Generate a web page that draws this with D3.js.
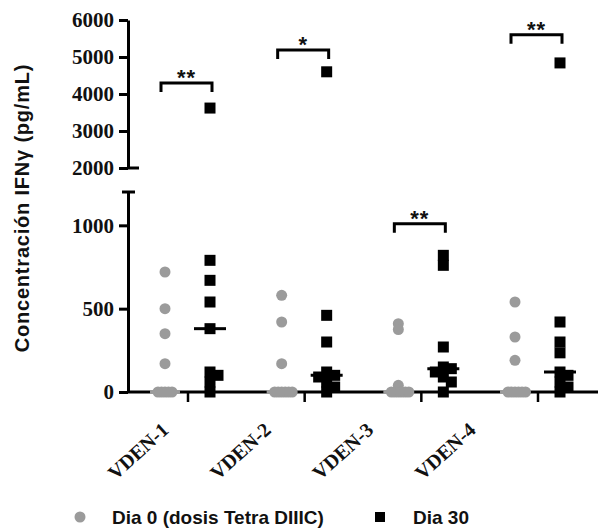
<!DOCTYPE html>
<html>
<head>
<meta charset="utf-8">
<script src="https://cdn.jsdelivr.net/npm/d3@7"></script>
<style>
body { margin: 0; background: #fff; }
</style>
</head>
<body>
<script>
// data
var groups = ['VDEN-1', 'VDEN-2', 'VDEN-3', 'VDEN-4']
var seriesNames = ['Dia 0 (dosis Tetra DIIIC)', 'Dia 30']
var dia0 = [
	[720, 500, 350, 170, 0, 0, 0, 0, 0],
	[580, 420, 170, 0, 0, 0, 0, 0, 0],
	[410, 375, 40, 0, 0, 0, 0, 0, 0],
	[540, 330, 190, 0, 0, 0, 0, 0, 0]
]
var dia30 = [
	[3620, 790, 670, 540, 380, 120, 100, 60, 0],
	[4600, 460, 300, 120, 100, 90, 60, 30, 0],
	[820, 760, 270, 150, 140, 120, 90, 60, 0],
	[4840, 420, 300, 235, 120, 100, 60, 30, 0]
]
var sigLabels = ['**', '*', '**', '**']
var sigHeights = [4300, 5190, 1010, 5600]
var lowerTicks = [0, 500, 1000]
var upperTicks = [2000, 3000, 4000, 5000, 6000]

var w = 600, h = 530
var axisX = 128
var grey = '#9b9b9b'
var serif = '"Liberation Serif", "DejaVu Serif", serif'
var sans = '"Liberation Sans", Arial, sans-serif'

var svg = d3.select('body').append('svg')
	.attr('width', w)
	.attr('height', h)

// scales
var x0 = d3.scalePoint().domain(groups).range([188, 538])
var x1 = d3.scalePoint().domain([0, 1]).range([-23, 22])
var labelX = d3.scalePoint().domain(groups).range([138, 445])
var yLow = d3.scaleLinear().domain([0, 1200]).range([392, 192])
var yHigh = d3.scaleLinear().domain([2000, 6000]).range([168, 20])
function y(v) { return v >= 2000 ? yHigh(v) : yLow(v) }

// y axis, two segments
svg.append('g')
	.attr('transform', 'translate(' + axisX + ',0)')
	.call(d3.axisLeft(yLow).tickValues(lowerTicks).tickFormat(d3.format('d'))
		.tickSize(9).tickSizeOuter(0).tickPadding(5))
svg.append('g')
	.attr('transform', 'translate(' + axisX + ',0)')
	.call(d3.axisLeft(yHigh).tickValues(upperTicks).tickFormat(d3.format('d'))
		.tickSize(9).tickSizeOuter(0).tickPadding(5))
svg.selectAll('.domain, .tick line').attr('stroke', '#000').attr('stroke-width', 3)
svg.selectAll('.tick text')
	.attr('fill', '#111')
	.attr('font-family', serif)
	.attr('font-weight', 'bold')
	.attr('font-size', 21)

// break caps
svg.append('line').attr('x1', axisX).attr('x2', axisX + 11)
	.attr('y1', yHigh(2000)).attr('y2', yHigh(2000))
	.attr('stroke', '#000').attr('stroke-width', 3)
svg.append('line').attr('x1', axisX - 6).attr('x2', axisX + 7)
	.attr('y1', yLow(1200)).attr('y2', yLow(1200))
	.attr('stroke', '#000').attr('stroke-width', 3)

// x axis
svg.append('line').attr('x1', axisX - 1).attr('x2', 598)
	.attr('y1', yLow(0)).attr('y2', yLow(0))
	.attr('stroke', '#000').attr('stroke-width', 3)
svg.selectAll('.xtick').data(groups).enter().append('line')
	.attr('x1', function (d) { return x0(d) }).attr('x2', function (d) { return x0(d) })
	.attr('y1', yLow(0)).attr('y2', yLow(0) + 10)
	.attr('stroke', '#000').attr('stroke-width', 2.5)
svg.selectAll('.xlab').data(groups).enter().append('text')
	.attr('transform', function (d) { return 'translate(' + labelX(d) + ',451) rotate(-42)' })
	.attr('text-anchor', 'middle')
	.attr('dy', '0.35em')
	.attr('font-family', serif)
	.attr('font-weight', 'bold')
	.attr('font-size', 20)
	.attr('fill', '#111')
	.text(function (d) { return d })

// y title
svg.append('text')
	.attr('transform', 'translate(22,208) rotate(-90)')
	.attr('text-anchor', 'middle')
	.attr('dy', '0.35em')
	.attr('font-family', sans)
	.attr('font-weight', 'bold')
	.attr('font-size', 20)
	.style('letter-spacing', '0.8px')
	.attr('fill', '#111')
	.text('Concentración IFNγ (pg/mL)')

// spread overlapping points sideways
function dodge(vals, step, minD) {
	var placed = []
	vals.forEach(function (v) {
		var py = y(v)
		for (var k = 0; k < 40; k++) {
			var off = (k % 2 == 1 ? 1 : -1) * Math.ceil(k / 2) * step
			var ok = placed.every(function (p) {
				return Math.hypot(p.dx - off, p.py - py) >= minD
			})
			if (ok) { placed.push({v: v, dx: off, py: py}); break }
		}
	})
	return placed
}

var pts = svg.append('g')
groups.forEach(function (g, i) {
	var cx0 = x0(g) + x1(0)
	var cx1 = x0(g) + x1(1)
	pts.selectAll('.c' + i).data(dodge(dia0[i], 3.5, 3.5)).enter().append('circle')
		.attr('cx', function (d) { return cx0 + d.dx })
		.attr('cy', function (d) { return d.py })
		.attr('r', 5.5)
		.attr('fill', grey)
	pts.append('line')
		.attr('x1', cx0 - 15).attr('x2', cx0 + 15)
		.attr('y1', yLow(d3.median(dia0[i]))).attr('y2', yLow(d3.median(dia0[i])))
		.attr('stroke', grey).attr('stroke-width', 4)
	pts.selectAll('.s' + i).data(dodge(dia30[i], 4, 8)).enter().append('rect')
		.attr('x', function (d) { return cx1 + d.dx - 5.5 })
		.attr('y', function (d) { return d.py - 5.5 })
		.attr('width', 11).attr('height', 11)
		.attr('fill', '#000')
	pts.append('line')
		.attr('x1', cx1 - 16).attr('x2', cx1 + 16)
		.attr('y1', yLow(d3.median(dia30[i]))).attr('y2', yLow(d3.median(dia30[i])))
		.attr('stroke', '#000').attr('stroke-width', 3)

	// significance bracket
	var by = y(sigHeights[i])
	var bx0 = cx0 - 4, bx1 = cx1 + 2
	svg.append('path')
		.attr('d', 'M' + bx0 + ',' + (by + 9) + 'V' + by + 'H' + bx1 + 'V' + (by + 9))
		.attr('fill', 'none').attr('stroke', '#000').attr('stroke-width', 3)
	svg.append('text')
		.attr('x', (bx0 + bx1) / 2).attr('y', by + 2)
		.attr('text-anchor', 'middle')
		.attr('font-family', sans)
		.attr('font-weight', 'bold')
		.attr('font-size', 22)
		.style('letter-spacing', '1px')
		.attr('fill', '#111')
		.text(sigLabels[i])
})

// legend
var leg = svg.append('g')
leg.append('circle').attr('cx', 80).attr('cy', 517).attr('r', 5.5).attr('fill', grey)
leg.append('rect').attr('x', 375).attr('y', 512).attr('width', 10).attr('height', 10).attr('fill', '#000')
leg.selectAll('text').data(seriesNames).enter().append('text')
	.attr('x', function (d, i) { return i == 0 ? 112 : 413 })
	.attr('y', 517)
	.attr('dy', '0.35em')
	.attr('font-family', sans)
	.attr('font-weight', 'bold')
	.attr('font-size', 19)
	.attr('fill', '#111')
	.text(function (d) { return d })
</script>
</body>
</html>
